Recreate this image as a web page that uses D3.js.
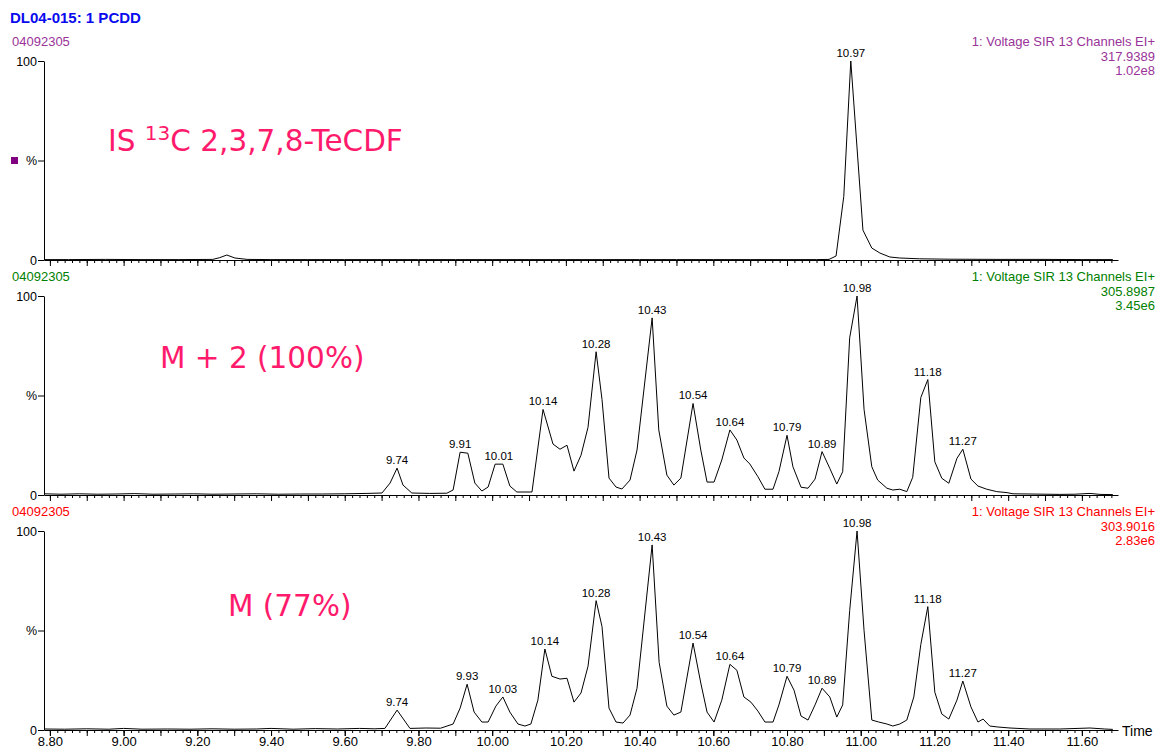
<!DOCTYPE html>
<html>
<head>
<meta charset="utf-8">
<script src="https://cdn.jsdelivr.net/npm/d3@7"></script>
<style>
  body { margin: 0; background: #fff; }
  svg { font-family: "Liberation Sans", Arial, sans-serif; }
</style>
</head>
<body>
<svg id="chart" width="1159" height="749"></svg>
<script>
// ---- data (time in min, intensity in %) ----
const timeTicks = [8.8, 9.0, 9.2, 9.4, 9.6, 9.8, 10.0, 10.2, 10.4, 10.6, 10.8, 11.0, 11.2, 11.4, 11.6];

// trace 1: IS 13C 2,3,7,8-TeCDF
const isTimes = [8.784, 8.85, 8.95, 9.05, 9.15, 9.242, 9.261, 9.280, 9.302, 9.335, 9.40, 9.50, 9.60, 9.70,
  9.80, 9.90, 10.00, 10.10, 10.20, 10.30, 10.40, 10.50, 10.60, 10.70, 10.80, 10.88, 10.914, 10.933,
  10.954, 10.973, 11.006, 11.030, 11.052, 11.079, 11.106, 11.160, 11.242, 11.378, 11.50, 11.60, 11.684];
const isValues = [0.2, 0.2, 0.3, 0.2, 0.2, 0.3, 1.2, 2.5, 1.0, 0.3, 0.2, 0.2, 0.2, 0.2,
  0.2, 0.2, 0.2, 0.2, 0.2, 0.2, 0.2, 0.2, 0.2, 0.2, 0.2, 0.2, 0.3, 2.0,
  32, 100, 15, 6, 3.5, 1.5, 1.0, 0.6, 0.4, 0.3, 0.3, 0.2, 0.2];
const isPeaks = [[10.973, 100, "10.97"]];

// trace 2: M + 2
const m2Times = [8.784, 8.83, 8.88, 8.93, 8.98, 9.03, 9.08, 9.14, 9.19, 9.24, 9.30, 9.36, 9.42, 9.48,
  9.54, 9.60, 9.66, 9.701, 9.723, 9.742, 9.758, 9.782, 9.83, 9.877, 9.894, 9.913, 9.934, 9.953,
  9.972, 9.989, 10.008, 10.029, 10.048, 10.067, 10.108, 10.138, 10.165, 10.184, 10.203, 10.222,
  10.241, 10.260, 10.282, 10.298, 10.317, 10.336, 10.352, 10.374, 10.393, 10.434, 10.452, 10.474,
  10.493, 10.512, 10.545, 10.566, 10.583, 10.602, 10.623, 10.645, 10.664, 10.683, 10.699, 10.721,
  10.740, 10.762, 10.778, 10.800, 10.816, 10.838, 10.857, 10.876, 10.895, 10.916, 10.935, 10.951,
  10.970, 10.990, 11.009, 11.030, 11.046, 11.071, 11.087, 11.106, 11.125, 11.141, 11.163, 11.182,
  11.201, 11.220, 11.239, 11.261, 11.277, 11.299, 11.318, 11.342, 11.369, 11.397, 11.413, 11.459,
  11.540, 11.581, 11.622, 11.649, 11.684];
const m2Values = [0.6, 0.4, 0.6, 0.4, 0.5, 0.7, 0.4, 0.5, 0.6, 0.4, 0.5, 0.6, 0.4, 0.5,
  0.5, 0.6, 0.8, 1.0, 6, 13.5, 5, 1.0, 0.8, 0.9, 2.5, 21.5, 21, 6,
  2, 4, 15.5, 15.5, 4.5, 1.5, 1.5, 43, 25.6, 23, 25, 12,
  20, 34, 72, 48, 8.5, 4, 3, 7.5, 22.6, 89, 32.7, 10,
  5, 8.5, 46, 22.6, 6.5, 6.5, 17.6, 32.7, 27.6, 18.6, 15.6, 9.2,
  2.9, 2.9, 11.7, 30, 14.2, 3.9, 3.4, 8, 21.8, 13.4, 5.5, 11.7,
  79, 100, 43, 14.2, 7.5, 3.4, 2.5, 2.9, 1.7, 8.9, 49, 58,
  16.7, 8.4, 5.9, 18.4, 23, 8, 4.5, 2.9, 1.7, 1.2, 0.6, 0.5,
  0.3, 0.4, 0.8, 0.3, 0.2];
const m2Peaks = [[9.742, 13.5, "9.74"], [9.913, 21.5, "9.91"], [10.018, 15.5, "10.01"], [10.138, 43, "10.14"],
  [10.282, 72, "10.28"], [10.434, 89, "10.43"], [10.545, 46, "10.54"], [10.645, 32.7, "10.64"],
  [10.800, 30, "10.79"], [10.895, 21.8, "10.89"], [10.990, 100, "10.98"], [11.182, 58, "11.18"],
  [11.277, 23, "11.27"]];

// trace 3: M
const mTimes = [8.784, 8.84, 8.90, 8.96, 9.00, 9.05, 9.12, 9.18, 9.24, 9.30, 9.36, 9.40, 9.46, 9.52,
  9.58, 9.64, 9.68, 9.709, 9.742, 9.777, 9.82, 9.86, 9.894, 9.913, 9.932, 9.951, 9.972, 9.989,
  10.010, 10.029, 10.048, 10.070, 10.089, 10.105, 10.124, 10.143, 10.162, 10.184, 10.203, 10.222,
  10.241, 10.260, 10.282, 10.298, 10.317, 10.336, 10.355, 10.374, 10.393, 10.434, 10.453, 10.474,
  10.493, 10.512, 10.545, 10.566, 10.583, 10.602, 10.623, 10.645, 10.664, 10.683, 10.702, 10.721,
  10.740, 10.762, 10.778, 10.800, 10.819, 10.838, 10.857, 10.876, 10.895, 10.916, 10.935, 10.951,
  10.970, 10.990, 11.009, 11.030, 11.049, 11.071, 11.087, 11.106, 11.125, 11.144, 11.163, 11.182,
  11.201, 11.220, 11.239, 11.261, 11.277, 11.299, 11.318, 11.332, 11.350, 11.372, 11.405, 11.459,
  11.540, 11.622, 11.662, 11.684];
const mValues = [0.5, 0.4, 0.6, 0.4, 0.8, 0.4, 0.5, 0.4, 0.6, 0.4, 0.5, 0.8, 0.4, 0.7,
  0.5, 0.8, 0.6, 0.8, 10, 0.8, 1.0, 0.9, 3, 11, 23, 9, 4, 4,
  12, 16.6, 9, 3, 2, 3, 15, 40.7, 27, 25.6, 26, 14,
  18.6, 32, 65, 52, 11, 4, 3.5, 7.5, 21, 93, 34, 12,
  7.5, 9, 43.7, 23.6, 9, 4, 15, 33, 30, 16.6, 14, 9.5,
  4, 4, 12.6, 27, 20, 7, 5, 12.6, 21, 16.6, 6.5, 12.6,
  60, 100, 50, 5, 4, 3, 2, 3, 5, 16.6, 43, 62,
  19, 8, 5.5, 15, 24.6, 11.6, 4, 5.5, 2, 1.5, 1.0, 0.5,
  0.5, 1.0, 0.5, 0.3];
const mPeaks = [[9.742, 10, "9.74"], [9.932, 23, "9.93"], [10.029, 16.6, "10.03"], [10.143, 40.7, "10.14"],
  [10.282, 65, "10.28"], [10.434, 93, "10.43"], [10.545, 43.7, "10.54"], [10.645, 33, "10.64"],
  [10.800, 27, "10.79"], [10.895, 21, "10.89"], [10.990, 100, "10.98"], [11.182, 62, "11.18"],
  [11.277, 24.6, "11.27"]];

const sampleName = "04092305";
const channelText = "1: Voltage SIR 13 Channels EI+";
const masses = ["317.9389", "305.8987", "303.9016"];
const intensities = ["1.02e8", "3.45e6", "2.83e6"];
const colors = ["#993399", "#008000", "#ff0000"];

const panels = [
  { times: isTimes, values: isValues, peaks: isPeaks, ann: [108, 151] },
  { times: m2Times, values: m2Values, peaks: m2Peaks, ann: [160, 368], label: "M + 2 (100%)" },
  { times: mTimes, values: mValues, peaks: mPeaks, ann: [228, 616], label: "M (77%)" }
];

// ---- drawing ----
const svg = d3.select("#chart");
const x = d3.scaleLinear().domain([8.784, 11.698]).range([44, 1118]);
const minorTicks = d3.range(0, 145).map(k => 8.80 + k * 0.02);
const majorTicks = d3.range(0, 29).map(k => 8.80 + k * 0.1);
const font = "'Liberation Sans', Arial, sans-serif";

svg.append("text")
  .attr("x", 10).attr("y", 23)
  .attr("font-size", 15).attr("font-weight", "bold")
  .attr("fill", "#0a0aee")
  .text("DL04-015: 1 PCDD");

panels.forEach((p, i) => {
  const top = 61 + i * 235;
  const base = top + 199;
  const y = d3.scaleLinear().domain([0, 100]).range([base, top]);
  const g = svg.append("g");
  const col = colors[i];

  // header texts
  g.append("text").attr("x", 12).attr("y", top - 15)
    .attr("font-size", 13).attr("fill", col).text(sampleName);
  [channelText, masses[i], intensities[i]].forEach((t, k) => {
    g.append("text").attr("x", 1155).attr("y", top - 15 + k * 14.5)
      .attr("text-anchor", "end").attr("font-size", 13).attr("fill", col).text(t);
  });

  // x axis: minor ticks, 0.1 ticks, labels on the last panel only
  g.append("g").attr("transform", `translate(0,${base})`)
    .call(d3.axisBottom(x).tickValues(minorTicks).tickSize(3).tickSizeOuter(0).tickFormat(""))
    .call(a => a.select(".domain").remove());
  const ax = g.append("g").attr("transform", `translate(0,${base})`)
    .call(d3.axisBottom(x).tickValues(i === 2 ? timeTicks : majorTicks).tickSize(6).tickSizeOuter(0)
      .tickPadding(1).tickFormat(i === 2 ? d3.format(".2f") : ""));
  if (i === 2) {
    g.append("g").attr("transform", `translate(0,${base})`)
      .call(d3.axisBottom(x).tickValues(majorTicks).tickSize(6).tickSizeOuter(0).tickFormat(""))
      .call(a => a.select(".domain").remove());
    g.append("text").attr("x", 1122).attr("y", base + 6)
      .attr("font-size", 14).attr("fill", "#000").text("Time");
  }
  ax.selectAll("text").attr("font-size", 13).attr("fill", "#000").attr("font-family", font);
  g.selectAll(".tick line, .domain").attr("stroke", "#000");

  // y axis
  const ay = g.append("g").attr("transform", "translate(44,0)")
    .call(d3.axisLeft(y).tickValues([0, 50, 100]).tickSize(6).tickSizeOuter(0).tickPadding(1)
      .tickFormat(d => d === 50 ? "%" : d));
  ay.selectAll("text").attr("font-size", 12.5).attr("fill", "#000").attr("font-family", font);
  ay.selectAll("line, path").attr("stroke", "#000");
  if (i === 0) {
    g.append("rect").attr("x", 11).attr("y", y(50) - 3.5).attr("width", 7).attr("height", 7)
      .attr("fill", "#800080");
  }

  // trace
  const line = d3.line().x(d => x(d[0])).y(d => y(d[1]));
  g.append("path").datum(d3.zip(p.times, p.values))
    .attr("d", line).attr("fill", "none").attr("stroke", "#000").attr("stroke-width", 1);

  // peak labels
  g.selectAll(".peak").data(p.peaks).join("text")
    .attr("x", d => x(d[0])).attr("y", d => y(d[1]) - 4)
    .attr("text-anchor", "middle").attr("font-size", 11.5).attr("fill", "#000")
    .text(d => d[2]);

  // annotation
  const ann = g.append("text").attr("x", p.ann[0]).attr("y", p.ann[1])
    .attr("font-size", 29.5).attr("fill", "#ff1a6c")
    .attr("font-family", "'DejaVu Sans', Verdana, sans-serif");
  if (i === 0) {
    ann.append("tspan").text("IS ");
    ann.append("tspan").attr("font-size", 20).attr("dy", -11).text("13");
    ann.append("tspan").attr("dy", 11).text("C 2,3,7,8-TeCDF");
  } else {
    ann.text(p.label);
  }
});
</script>
</body>
</html>
